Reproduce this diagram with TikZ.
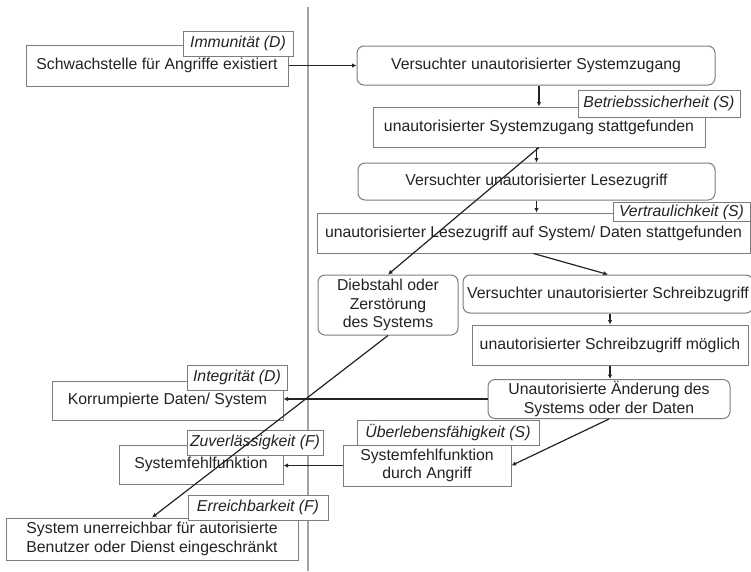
\documentclass[tikz,border=0pt]{standalone}
\usepackage{fontspec}
\setmainfont{Liberation Sans}
\usetikzlibrary{arrows.meta}
\definecolor{boxgray}{RGB}{125,125,125}
\definecolor{txt}{RGB}{35,35,35}
\definecolor{sepgray}{RGB}{165,165,165}
\begin{document}
\begin{tikzpicture}[x=1pt,y=-1pt,
  every node/.style={font=\fontsize{15.8}{18.5}\selectfont, text=txt, inner sep=2pt},
  box/.style={draw=boxgray, line width=1pt, fill=white, align=center},
  rbox/.style={box, rounded corners=7pt},
  tag/.style={draw=boxgray, line width=1pt, fill=white, inner sep=1pt, font=\fontsize{15.8}{18.5}\selectfont\itshape},
  arr/.style={draw=txt, line width=1.2pt, -{Latex[length=4.5pt,width=4.5pt]}},
]
\useasboundingbox (0,0) rectangle (751,571);
\fill[white] (0,0) rectangle (751,571);
\draw[sepgray, line width=2.5pt] (308,7) -- (308,571);

% boxes
\node[box, minimum width=262pt, minimum height=41pt] (schw) at (157,65.5) {Schwachstelle für Angriffe existiert};
\node[rbox, minimum width=358pt, minimum height=39pt] (vsys) at (536,65.5) {Versuchter unautorisierter Systemzugang};
\node[box, minimum width=332pt, minimum height=40pt] (sysst) at (539,127) {unautorisierter Systemzugang stattgefunden};
\node[rbox, minimum width=357pt, minimum height=37pt] (vles) at (536.5,181.5) {Versuchter unautorisierter Lesezugriff};
\node[box, minimum width=433pt, minimum height=40pt] (lesst) at (533.5,233) {unautorisierter Lesezugriff auf System/ Daten stattgefunden};
\node[rbox, minimum width=140pt, minimum height=60pt] (dieb) at (388,305) {Diebstahl oder\\Zerstörung\\des Systems};
\node[rbox, minimum width=290pt, minimum height=38pt] (vschr) at (608,294) {Versuchter unautorisierter Schreibzugriff};
\node[box, minimum width=276pt, minimum height=40pt] (smog) at (610,345) {unautorisierter Schreibzugriff möglich};
\node[rbox, minimum width=242pt, minimum height=38pt] (aend) at (609,399) {Unautorisierte Änderung des\\Systems oder der Daten};
\node[box, minimum width=231pt, minimum height=39pt] (korr) at (167.5,400.5) {Korrumpierte Daten/ System};
\node[box, minimum width=164pt, minimum height=39pt] (sfehl) at (201,464.5) {Systemfehlfunktion};
\node[box, minimum width=168pt, minimum height=41pt] (sfa) at (427,465.5) {Systemfehlfunktion\\durch Angriff};
\node[box, minimum width=292pt, minimum height=42pt] (uner) at (152,539) {System unerreichbar für autorisierte\\Benutzer oder Dienst eingeschränkt};

% tags
\node[tag, minimum width=110pt, minimum height=25pt] (timm) at (238,43.5) {Immunität (D)};
\node[tag, minimum width=162pt, minimum height=27pt] (tbet) at (659,103.5) {Betriebssicherheit (S)};
\node[tag, minimum width=137pt, minimum height=19pt] (tver) at (681.5,212) {Vertraulichkeit (S)};
\node[tag, minimum width=100pt, minimum height=25pt] (tint) at (237,377.5) {Integrität (D)};
\node[tag, minimum width=136pt, minimum height=25pt] (tzuv) at (255,442.5) {Zuverlässigkeit (F)};
\node[tag, minimum width=182pt, minimum height=25pt] (tueb) at (448,432.5) {Überlebensfähigkeit (S)};
\node[tag, minimum width=140pt, minimum height=25pt] (terr) at (258,507.5) {Erreichbarkeit (F)};

% connectors
\draw[arr] (schw.east) -- (schw.east -| vsys.west);
\draw[arr] (sysst.north |- vsys.south) -- (sysst.north);
\draw[arr] (sysst.south -| vles.north) -- (vles.north);
\draw[arr] (vles.south) -- (vles.south |- lesst.north);
\draw[arr] (sysst.south) -- (dieb.north);
\draw[arr] (lesst.south) -- (vschr.north);
\draw[arr] (smog.north |- vschr.south) -- (smog.north);
\draw[arr] (smog.south) -- (smog.south |- aend.north);
\draw[arr] (aend.west) -- (aend.west -| korr.east);
\draw[arr] (dieb.south) -- (uner.north);
\draw[arr] (aend.south) -- (sfa.east);
\draw[arr] (sfa.west) -- (sfa.west -| sfehl.east);
\end{tikzpicture}
\end{document}
